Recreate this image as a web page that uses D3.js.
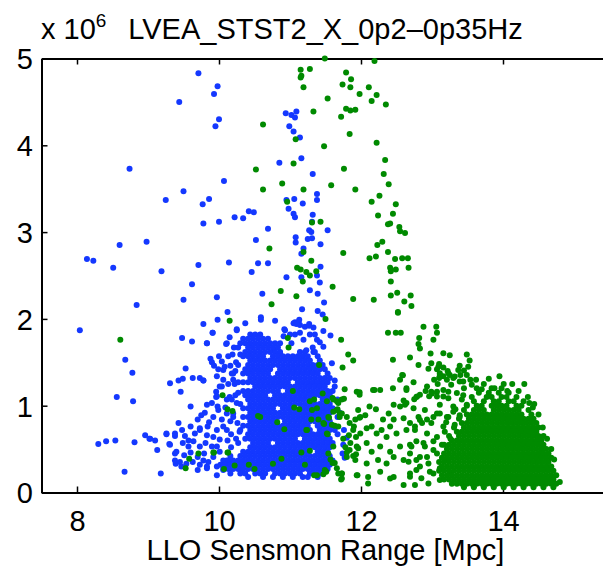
<!DOCTYPE html>
<html>
<head>
<meta charset="utf-8">
<script src="https://cdn.jsdelivr.net/npm/d3@7"></script>
<style>
  body { margin: 0; background: #fff; }
  text { font-family: "Liberation Sans", Arial, Helvetica, sans-serif; fill: #000; }
</style>
</head>
<body>
<svg id="chart" width="603" height="570"></svg>
<script>
// tick values (x in Mpc, y in units of 10^6)
var xTicks = [8, 10, 12, 14];
var yTicks = [0, 1, 2, 3, 4, 5];

// blue series, scattered points [range, value]
var blueSparse = [
 [9.71,4.83],[9.98,4.68],[9.93,4.59],[9.44,4.50],[10.00,4.30],[9.95,4.22],[8.74,3.73],[10.07,3.59],[9.50,3.47],[9.25,3.37],
 [9.86,3.38],[9.77,3.32],[10.22,3.17],[10.00,3.12],[9.78,3.10],[8.98,2.89],[8.60,2.85],[8.14,2.69],[8.23,2.67],[8.51,2.59],
 [9.19,2.55],[9.71,2.62],[10.14,2.65],[9.62,2.40],[8.84,2.16],[9.50,2.22],[9.97,2.25],[10.12,2.08],[8.04,1.87],[9.98,1.99],
 [9.78,1.94],[9.48,1.78],[9.62,1.74],[9.91,1.84],[10.15,1.79],[10.25,1.88],[9.83,1.72],[8.68,1.53],[8.78,1.38],[8.56,1.10],
 [8.79,1.05],[9.31,1.26],[9.43,1.29],[9.49,1.31],[9.63,1.32],[9.73,1.32],[9.78,1.29],[9.46,1.16],[9.53,1.43],[9.60,0.99],
 [9.88,1.54],[9.90,1.50],[9.93,1.46],[10.04,1.51],[10.06,1.41],[10.10,1.71],[10.19,1.59],[9.97,1.34],[10.01,1.22],[9.96,1.10],
 [9.83,1.01],[9.80,0.92],[9.75,0.89],[9.70,0.84],[8.96,0.66],[9.02,0.62],[9.10,0.60],[9.13,0.49],[8.30,0.56],[8.41,0.59],
 [8.54,0.60],[8.81,0.58],[8.67,0.24],[9.18,0.22],[9.26,0.67],[9.38,0.65],[9.30,0.56],[9.38,0.45],[9.39,0.33],
 [11.09,4.39],[10.94,4.37],[11.02,4.35],[11.07,4.32],[10.99,4.22],[11.05,4.16],[11.14,4.09],[11.16,3.85],[10.85,3.80],[11.32,3.67],
 [11.38,3.44],[11.38,3.37],[11.06,3.38],[11.18,3.33],[10.95,3.37],[10.98,3.27],[11.05,3.21],[11.07,3.17],[11.32,3.20],[11.31,3.12],
 [11.53,3.02],[11.27,3.02],[11.30,3.00],[11.08,2.94],[11.25,2.92],[11.31,2.93],[11.08,2.88],[11.19,2.81],[11.16,2.75],[11.43,2.86],
 [11.43,2.60],[11.38,2.50],[11.42,2.42],[10.95,2.48],[11.16,2.48],[11.28,2.33],[11.39,2.29],[11.48,2.19],[11.17,2.11],[11.39,2.09],
 [11.46,2.05],[11.07,1.96],[11.12,1.96],[11.27,1.94],[10.42,3.24],[10.49,3.23],[10.34,3.16],[10.69,3.04],[10.52,2.91],[10.55,2.64],
 [10.69,2.64],[10.46,2.54],[10.61,2.29],[10.59,2.02],[10.37,1.95],
 [11.57,1.81],[11.05,1.95],[11.14,1.93],[11.21,1.91],[11.33,1.90],[11.47,1.86],[10.93,1.87],[11.00,1.82],[11.28,1.82],[11.38,1.76],
 [10.77,1.64],[10.86,1.61],[10.92,1.88],[11.09,1.94],[11.13,1.99],[11.27,1.92],[11.35,1.82],[11.42,1.73],[11.47,1.68],[11.59,1.49],
 [11.63,1.29],[11.14,1.84],[11.19,1.76],[11.07,1.82],[11.02,1.72],[11.23,1.64],[11.33,1.62],[10.86,1.72],[10.91,1.80],[10.79,1.98],
 [10.59,1.99],[10.25,1.87],[10.11,1.72],[9.83,1.72],[9.91,1.84],[9.78,1.29],[9.99,1.42],[10.08,1.45],[9.96,1.16],[9.98,0.99],
 [9.84,0.76],[9.73,0.72],[9.92,0.64],[9.78,0.37],[9.83,0.30],[9.97,0.53],[10.11,0.72],[10.04,0.84],[10.15,1.10],[10.20,0.91],
 [10.06,1.30],[10.18,1.37],[10.13,1.57],[10.00,1.57],[10.21,1.67],
 [10.24,1.50],[10.22,1.25],[10.25,1.03],[10.26,0.80],[10.24,0.62],[10.17,0.52],[10.29,0.70],[10.16,0.82],[10.27,1.15],[10.23,1.40],
 [10.13,1.25],[10.17,0.67],[10.12,0.60],[10.30,1.59],[10.16,1.46],[10.09,0.98],
 [9.48,0.72],[9.52,0.65],[9.60,0.76],[9.66,0.68],[9.73,0.74],[9.83,0.66],[9.86,0.81],[9.97,0.72],[9.49,0.57],[9.57,0.53],
 [9.64,0.59],[9.73,0.53],[9.81,0.57],[9.90,0.53],[9.40,0.47],[9.51,0.43],[9.60,0.46],[9.70,0.41],[9.79,0.45],[9.92,0.41],
 [10.01,0.47],[9.45,0.35],[9.54,0.33],[9.63,0.35],[9.73,0.32],[9.85,0.35],[9.97,0.30],[9.70,0.26],[9.83,0.28],[9.97,0.20],
 [10.06,0.26],[9.31,0.55],[9.38,0.68],[9.43,0.80],[9.57,0.60],[9.92,0.87],[10.01,0.61],[10.06,0.76],[10.11,0.91],[10.18,1.07],
 [10.11,1.07],[9.97,1.11],[10.04,1.22],[10.20,1.30],[9.90,1.03],[9.99,0.95],[9.26,0.68],[9.03,0.62],[9.38,0.37],[9.47,0.30],
 [10.11,0.37],[10.18,0.28],[10.30,0.26],[11.76,0.72],[11.80,0.63],[11.75,0.55],[11.74,0.45],[11.77,0.40]
];

// blue dense cluster, one row per value: [value, range, range, ...]
var blueRows = [
 [1.82,10.44,10.51,10.58],
 [1.77,10.34,10.41,10.48,10.55,10.62,10.69],
 [1.72,10.30,10.37,10.44,10.51,10.58,10.65,10.72,10.79],
 [1.67,10.27,10.41,10.48,10.55,10.62,10.69,10.76,10.83,11.32],
 [1.62,10.37,10.44,10.51,10.58,10.65,10.72,10.79,10.86,11.14,11.21,11.35],
 [1.57,10.34,10.41,10.48,10.55,10.62,10.76,10.83,10.90,10.97,11.04,11.11,11.18,11.25,11.39],
 [1.52,10.44,10.51,10.58,10.65,10.72,10.79,10.86,10.93,11.00,11.07,11.14,11.21,11.28,11.42],
 [1.47,10.27,10.41,10.48,10.55,10.62,10.69,10.76,10.83,10.90,10.97,11.04,11.11,11.18,11.25,11.32,11.39,11.46],
 [1.42,10.37,10.44,10.51,10.58,10.65,10.72,10.86,10.93,11.00,11.07,11.14,11.21,11.28,11.35,11.42,11.49],
 [1.37,10.20,10.34,10.41,10.48,10.55,10.62,10.69,10.83,10.90,10.97,11.04,11.11,11.18,11.25,11.32,11.39,11.53],
 [1.32,10.44,10.51,10.58,10.65,10.72,10.79,10.86,10.93,11.00,11.07,11.14,11.21,11.28,11.35,11.42,11.49,11.56],
 [1.27,10.27,10.34,10.41,10.48,10.55,10.62,10.69,10.76,10.83,10.90,10.97,11.11,11.18,11.25,11.32,11.39,11.46,11.53],
 [1.22,10.51,10.58,10.65,10.72,10.79,10.86,10.93,11.00,11.07,11.14,11.21,11.28,11.35,11.42,11.49,11.63],
 [1.17,10.34,10.41,10.48,10.55,10.62,10.69,10.76,10.83,10.97,11.04,11.11,11.18,11.25,11.32,11.39,11.46,11.53,11.60],
 [1.12,10.23,10.37,10.44,10.51,10.58,10.65,10.79,10.86,10.93,11.00,11.07,11.14,11.21,11.28,11.35,11.42,11.49,11.56],
 [1.07,10.41,10.48,10.55,10.62,10.69,10.76,10.83,10.90,10.97,11.04,11.11,11.18,11.25,11.32,11.46,11.53,11.67],
 [1.02,10.30,10.44,10.51,10.58,10.65,10.72,10.79,10.86,10.93,11.00,11.07,11.14,11.21,11.28,11.35,11.42,11.49,11.56],
 [0.97,10.34,10.41,10.48,10.55,10.62,10.69,10.76,10.90,10.97,11.04,11.18,11.25,11.32,11.39,11.46,11.53,11.60],
 [0.92,10.44,10.51,10.58,10.65,10.72,10.79,10.86,10.93,11.00,11.07,11.14,11.21,11.28,11.35,11.42,11.49,11.56,11.70],
 [0.87,10.20,10.34,10.41,10.48,10.55,10.62,10.69,10.76,10.83,10.90,10.97,11.04,11.11,11.18,11.25,11.32,11.39,11.46,11.53,11.67],
 [0.82,10.44,10.51,10.58,10.65,10.72,10.79,10.93,11.00,11.07,11.14,11.21,11.28,11.35,11.42,11.49,11.56],
 [0.77,10.34,10.41,10.48,10.55,10.62,10.69,10.76,10.83,10.90,10.97,11.04,11.11,11.18,11.25,11.39,11.46,11.53,11.60],
 [0.72,10.30,10.44,10.51,10.58,10.65,10.72,10.79,10.86,10.93,11.00,11.07,11.14,11.21,11.28,11.42,11.49,11.56,11.63],
 [0.67,10.41,10.48,10.55,10.62,10.69,10.76,10.83,10.90,10.97,11.04,11.11,11.18,11.25,11.32,11.39,11.46,11.53,11.67],
 [0.62,10.37,10.44,10.51,10.58,10.65,10.72,10.79,10.86,10.93,11.00,11.07,11.21,11.28,11.35,11.42,11.49,11.56],
 [0.57,10.27,10.48,10.55,10.62,10.69,10.83,10.90,10.97,11.04,11.11,11.18,11.25,11.32,11.39,11.46,11.53,11.60],
 [0.52,10.44,10.51,10.58,10.65,10.72,10.79,10.86,10.93,11.00,11.07,11.14,11.21,11.28,11.35,11.42,11.49,11.56],
 [0.47,10.34,10.41,10.48,10.55,10.62,10.69,10.76,10.83,10.90,10.97,11.04,11.11,11.18,11.25,11.39,11.46,11.53],
 [0.42,10.16,10.30,10.37,10.44,10.51,10.58,10.65,10.72,10.79,10.86,10.93,11.00,11.07,11.14,11.21,11.28,11.35,11.42,11.49,11.56],
 [0.37,10.06,10.13,10.20,10.27,10.34,10.41,10.48,10.55,10.62,10.69,10.76,10.83,10.90,10.97,11.04,11.11,11.18,11.25,11.32,11.39,11.46,11.53,11.60],
 [0.32,10.02,10.09,10.16,10.23,10.30,10.37,10.44,10.51,10.58,10.65,10.72,10.79,10.86,10.93,11.00,11.07,11.14,11.21,11.28,11.35,11.42,11.49,11.56],
 [0.27,10.06,10.13,10.20,10.27,10.34,10.41,10.48,10.55,10.62,10.69,10.76,10.83,10.90,10.97,11.04,11.11,11.18,11.25,11.32,11.39,11.46,11.53],
 [0.22,10.16,10.30,10.37,10.51,10.58,10.65,10.79,10.86,10.93,11.00,11.07,11.14,11.28,11.35,11.42],
 [0.18,10.41,10.62,10.76,10.90,11.04,11.18,11.25,11.39]
];

// green series, scattered points [range, value]
var greenSparse = [
 [11.49,5.00],[12.19,4.97],[11.15,4.87],[11.28,4.88],[11.16,4.80],[11.15,4.78],[11.19,4.67],[11.79,4.84],[11.86,4.76],[11.74,4.70],
 [11.85,4.67],[12.11,4.67],[11.98,4.59],[12.22,4.58],[12.15,4.51],[12.35,4.47],[11.53,4.54],[11.33,4.39],[11.79,4.42],[11.85,4.40],
 [11.92,4.41],[11.72,4.33],[11.84,4.13],[12.22,4.03],[11.08,4.07],[11.48,3.99],[11.05,3.79],[12.34,3.83],[11.76,3.73],[10.89,3.56],
 [12.32,3.67],[11.58,3.54],[12.39,3.55],[11.19,3.49],[11.92,3.49],[12.26,3.42],[12.15,3.35],[12.49,3.32],[10.96,3.35],[12.45,3.21],
 [12.24,3.19],[12.41,3.10],[12.38,3.09],[12.54,3.06],[12.55,3.01],[12.62,2.99],[11.43,3.12],[11.31,3.11],[12.30,2.89],[12.23,2.85],
 [11.75,2.76],[12.38,2.77],[12.12,2.70],[12.21,2.72],[12.48,2.69],[12.58,2.70],[12.66,2.70],[12.41,2.59],[12.42,2.55],[12.49,2.57],
 [12.67,2.59],[11.19,2.77],[11.30,2.67],[11.10,2.59],[11.15,2.57],[11.23,2.54],[11.28,2.50],[11.37,2.55],[11.18,2.43],[12.42,2.43],
 [11.60,2.37],[10.87,2.32],[11.09,2.26],[11.89,2.23],[12.18,2.22],[12.42,2.27],[12.51,2.30],[12.61,2.20],[12.70,2.27],[12.71,2.15],
 [12.52,2.08],[11.50,2.00],
 [10.62,4.24],[10.52,3.72],[10.62,3.49],[10.71,2.81],[10.74,2.17],[8.61,1.76],[10.15,1.98],[10.05,1.12],[10.12,0.96],[10.19,0.94],
 [9.71,0.45],[9.93,0.46],[10.12,0.46],[9.58,0.39],[9.53,0.28],[10.07,0.27],[10.22,0.31],
 [10.97,1.78],[10.98,1.67],[11.72,1.76],[11.82,1.59],[11.89,1.52],[11.74,1.44],[11.41,1.47],[11.77,1.19],[11.46,1.14],[11.52,1.05],
 [11.60,1.09],[11.66,1.05],[11.73,1.07],[11.76,1.08],[11.04,1.17],[11.06,0.98],[11.13,0.96],[11.28,1.05],[11.34,1.07],[11.31,0.95],
 [11.38,0.97],[11.67,0.96],[11.70,0.91],[11.80,0.87],[11.94,1.16],[11.96,0.95],[11.92,0.84],[10.58,0.87],[10.55,0.88],[10.82,0.81],
 [10.92,0.73],[11.30,0.84],[11.40,0.84],[11.55,0.86],[11.63,0.77],[11.48,0.79],[11.53,0.67],[11.23,0.72],[11.16,0.46],[11.28,0.48],
 [11.60,0.34],[11.21,0.32],[10.88,0.39],[10.76,0.33],[10.42,0.32],[10.50,0.27],[11.66,0.28],[11.51,0.24],[11.47,0.21],[11.34,0.20],
 [11.38,0.20],[11.73,0.22],[11.72,0.15],[11.78,0.52],[11.80,0.46],[11.89,0.42],[9.92,0.46],[10.13,0.46],[11.95,0.20],[11.84,0.49],
 [11.93,0.44],[11.96,0.51],[11.98,0.86],[11.93,0.64],[11.83,0.66],[11.90,0.76],
 [11.61,1.07],[11.68,1.03],[11.70,0.87],[11.68,0.76],[11.54,0.87],[11.59,0.78],[11.52,0.68],[11.61,0.53],[11.54,0.45],[11.57,0.38],
 [11.63,0.34],[11.68,0.22],[11.47,0.80],[11.24,0.72],[11.49,0.26],
 [12.38,1.84],[12.49,1.84],[12.56,1.84],[12.52,2.07],[12.88,1.91],[13.06,1.91],[13.07,1.84],[12.82,1.78],[12.83,1.66],[12.81,1.71],
 [13.02,1.76],[12.45,1.53],[12.69,1.555],[12.98,1.60],[13.16,1.605],[13.25,1.58],[13.49,1.59],[13.53,1.52],[13.51,1.45],[13.45,1.405],
 [13.39,1.46],[12.81,1.47],[12.95,1.425],[12.99,1.49],[13.10,1.48],[13.16,1.44],[13.22,1.40],[13.25,1.355],[12.59,1.35],[12.74,1.27],
 [13.07,1.42],[13.11,1.375],[13.10,1.32],[13.08,1.25],[11.98,1.155],[11.98,1.125],[12.19,1.18],[12.27,1.18],[12.64,1.18],[12.78,1.10],
 [12.75,1.075],[12.91,1.17],[12.99,1.16],[12.96,1.11],[12.60,1.06],[12.62,1.01],[12.46,1.01],
 [13.09,1.45],[13.16,1.34],[13.23,1.375],[13.30,1.32],[13.37,1.41],[13.49,1.355],[13.40,1.355],[13.44,1.28],[13.54,1.30],[13.56,1.24],
 [12.58,1.355],[12.45,1.20],[12.55,1.30],[12.64,1.20],[12.17,1.18],[12.79,1.105],[12.83,1.125],[12.93,1.22],[13.00,1.14],[13.07,1.16],
 [13.16,1.105],[13.23,1.16],
 [12.12,0.99],[12.21,0.96],[12.39,0.91],[12.55,0.99],[12.64,1.03],[12.74,0.97],[12.81,0.87],[12.31,0.84],[12.46,0.84],[12.60,0.855],
 [12.69,0.80],[12.41,0.76],[12.29,0.72],[12.15,0.76],[12.06,0.89],[11.99,0.87],[11.73,0.91],[11.66,0.95],[11.61,0.93],
 [11.84,0.80],[11.89,0.72],[11.99,0.68],[12.08,0.74],[12.22,0.68],[12.36,0.64],[12.50,0.68],[12.64,0.72],[12.76,0.76],[12.86,0.80],
 [12.93,0.84],[13.02,0.87],[13.11,0.91],[13.21,0.87],[13.30,0.93],[13.39,0.87],
 [11.75,0.62],[11.85,0.57],[11.94,0.53],[12.08,0.57],[12.15,0.47],[12.27,0.53],[12.41,0.47],[12.55,0.53],[12.69,0.55],[12.78,0.59],
 [12.90,0.53],[13.02,0.59],[13.14,0.55],
 [11.80,0.41],[11.92,0.375],[12.08,0.335],[12.24,0.375],[12.36,0.335],[12.46,0.41],[12.60,0.375],[12.69,0.45],[12.78,0.375],[12.93,0.41],
 [13.07,0.45],[13.21,0.39],
 [11.73,0.22],[11.94,0.20],[12.10,0.18],[12.27,0.24],[12.46,0.18],[12.60,0.085],[12.69,0.22],[12.83,0.30],[12.97,0.24],[13.11,0.28],
 [13.25,0.22],[11.73,0.16],[12.10,0.105],[12.41,0.16],
 [13.11,1.355],[13.03,1.30],[13.21,1.30],[13.32,1.335],[13.39,1.28],[13.27,1.24],[13.45,1.20],[13.35,1.145],[13.16,1.18],[13.07,1.105],
 [13.23,1.085],[13.42,1.07],[13.11,1.01],[13.30,0.99],[13.49,1.01],[12.90,0.95],[13.07,0.91],[13.23,0.87],[13.39,0.89],[12.83,0.835],
 [12.99,0.80],[13.16,0.76],[13.32,0.78],[12.93,0.68],[12.76,0.72],[13.07,0.64],[12.88,0.57],[12.71,0.53],[13.02,0.49],[12.83,0.41],
 [12.67,0.355],[12.95,0.335],[12.78,0.26],[13.02,0.22],[12.85,0.163],[12.69,0.182],[12.95,0.105],[13.11,0.144],[12.76,0.085],
 [14.42,0.98],[14.50,0.90],[14.56,0.75],[14.62,0.62],[14.68,0.50],[14.72,0.38],[14.80,0.12],[14.30,1.25],[14.13,1.25],[13.95,1.34],
 [14.37,1.03],[14.44,1.02],[14.50,0.59],[14.54,0.49],[13.62,1.30],[13.80,1.31],[14.22,1.17],[14.35,1.10],
 [13.18,0.70],[13.26,0.62],[13.20,0.81],[13.33,0.96],[13.44,1.12],[13.88,1.20],[14.06,1.17],[13.70,1.19]
];

// green dense cluster, one row per value: [value, range, range, ...]
var greenRows = [
 [1.25,13.73,14.01],
 [1.20,13.63,13.84,13.98],
 [1.15,13.66,13.80,13.94,14.08],
 [1.10,13.56,13.77,13.84,13.98,14.05,14.19],
 [1.05,13.59,13.73,13.87,13.94,14.08,14.15,14.29],
 [1.00,13.49,13.63,13.70,13.84,13.91,13.98,14.05,14.19,14.26],
 [0.95,13.45,13.59,13.66,13.73,13.87,13.94,14.01,14.08,14.15,14.22,14.36],
 [0.90,13.49,13.56,13.63,13.70,13.77,13.84,13.91,13.98,14.05,14.12,14.19,14.26,14.40],
 [0.85,13.38,13.52,13.59,13.66,13.73,13.80,13.87,13.94,14.01,14.08,14.15,14.22,14.29,14.36,14.43],
 [0.80,13.42,13.49,13.56,13.63,13.70,13.77,13.84,13.91,13.98,14.05,14.12,14.19,14.26,14.33,14.40,14.47],
 [0.75,13.31,13.45,13.52,13.59,13.66,13.73,13.80,13.87,13.94,14.01,14.08,14.15,14.22,14.29,14.36,14.43,14.50],
 [0.70,13.35,13.42,13.49,13.56,13.63,13.70,13.77,13.84,13.91,13.98,14.05,14.12,14.19,14.26,14.33,14.40,14.47],
 [0.65,13.24,13.38,13.45,13.52,13.59,13.66,13.73,13.80,13.87,13.94,14.01,14.08,14.15,14.22,14.29,14.36,14.43,14.50,14.57],
 [0.60,13.28,13.35,13.42,13.49,13.56,13.63,13.70,13.77,13.84,13.91,13.98,14.05,14.12,14.19,14.26,14.33,14.40,14.47,14.54],
 [0.55,13.17,13.24,13.31,13.38,13.45,13.52,13.59,13.66,13.73,13.80,13.87,13.94,14.01,14.08,14.15,14.22,14.29,14.36,14.43,14.50,14.57],
 [0.50,13.21,13.28,13.35,13.42,13.49,13.56,13.63,13.70,13.77,13.84,13.91,13.98,14.05,14.12,14.19,14.26,14.33,14.40,14.47,14.54,14.61],
 [0.45,13.17,13.24,13.31,13.38,13.45,13.52,13.59,13.66,13.73,13.80,13.87,13.94,14.01,14.08,14.15,14.22,14.29,14.36,14.43,14.50,14.57,14.64],
 [0.40,13.14,13.21,13.28,13.35,13.42,13.49,13.56,13.63,13.70,13.77,13.84,13.91,13.98,14.05,14.12,14.19,14.26,14.33,14.40,14.47,14.54,14.61,14.68],
 [0.35,13.10,13.17,13.24,13.31,13.38,13.45,13.52,13.59,13.66,13.73,13.80,13.87,13.94,14.01,14.08,14.15,14.22,14.29,14.36,14.43,14.50,14.57,14.64],
 [0.30,13.14,13.21,13.28,13.35,13.42,13.49,13.56,13.63,13.70,13.77,13.84,13.91,13.98,14.05,14.12,14.19,14.26,14.33,14.40,14.47,14.54,14.61,14.68],
 [0.25,13.10,13.17,13.24,13.31,13.38,13.45,13.52,13.59,13.66,13.73,13.80,13.87,13.94,14.01,14.08,14.15,14.22,14.29,14.36,14.43,14.50,14.57,14.64,14.71],
 [0.20,13.14,13.21,13.28,13.35,13.42,13.49,13.56,13.63,13.70,13.77,13.84,13.91,13.98,14.05,14.12,14.19,14.26,14.33,14.40,14.47,14.54,14.61,14.68,14.75],
 [0.15,13.17,13.24,13.31,13.38,13.45,13.52,13.59,13.66,13.73,13.80,13.87,13.94,14.01,14.08,14.15,14.22,14.29,14.36,14.43,14.50,14.57,14.64,14.71],
 [0.10,13.28,13.35,13.42,13.49,13.56,13.63,13.70,13.77,13.84,13.91,13.98,14.05,14.12,14.19,14.26,14.33,14.40,14.47,14.54,14.61,14.68,14.75],
 [0.06,13.45,13.59,13.73,13.87,14.01,14.15,14.29,14.43,14.57,14.71]
];

// rows -> [range, value] pairs
function unrow(rows) {
    var out = [];
    rows.forEach(function(r) {
        for (var i = 1; i < r.length; i++) out.push([r[i], r[0]]);
    });
    return out;
}

var blueData = blueSparse.concat(unrow(blueRows));
var greenData = greenSparse.concat(unrow(greenRows));

var svg = d3.select("#chart");
var fontSize = 29;

var x = d3.scaleLinear().domain([7.5, 15.5]).range([41.5, 609.5]);
var y = d3.scaleLinear().domain([0, 5]).range([492.5, 58.5]);

// axes (box: left, bottom, top; ticks point inward)
var xAxis = d3.axisBottom(x).tickValues(xTicks).tickSize(-6).tickSizeOuter(0).tickPadding(18).tickFormat(d3.format("d"));
var xAxisTop = d3.axisTop(x).tickValues(xTicks).tickSize(-6).tickSizeOuter(0).tickFormat("");
var yAxis = d3.axisLeft(y).tickValues(yTicks).tickSize(-6).tickSizeOuter(0).tickPadding(8.5).tickFormat(d3.format("d"));

var gx = svg.append("g").attr("transform", "translate(0," + y(0) + ")").call(xAxis);
var gxt = svg.append("g").attr("transform", "translate(0," + y(5) + ")").call(xAxisTop);
var gy = svg.append("g").attr("transform", "translate(" + x(7.5) + ",0)").call(yAxis);

[gx, gxt, gy].forEach(function(g) {
    g.select(".domain").attr("stroke", "#000").attr("stroke-width", 2);
    g.selectAll(".tick line").attr("stroke", "#000").attr("stroke-width", 1.5);
    g.selectAll(".tick text")
        .style("font-family", "'Liberation Sans', Arial, Helvetica, sans-serif")
        .style("font-size", fontSize + "px")
        .attr("fill", "#000");
});
gy.selectAll(".tick text").attr("dy", "0.36em");

// points: blue first, green over it
svg.append("g").selectAll("circle.b")
    .data(blueData).enter().append("circle")
    .attr("class", "b")
    .attr("cx", function(d) { return x(d[0]); })
    .attr("cy", function(d) { return y(d[1]); })
    .attr("r", 3)
    .attr("fill", "#1438ff");

svg.append("g").selectAll("circle.g")
    .data(greenData).enter().append("circle")
    .attr("class", "g")
    .attr("cx", function(d) { return x(d[0]); })
    .attr("cy", function(d) { return y(d[1]); })
    .attr("r", 3)
    .attr("fill", "#008a00");

// exponent label
var ex = svg.append("text").attr("x", 41).attr("y", 39).style("font-size", fontSize + "px");
ex.append("tspan").text("x 10");
ex.append("tspan").attr("dy", -12).style("font-size", "19px").text("6");

// title
svg.append("text")
    .attr("x", (x.range()[0] + x.range()[1]) / 2)
    .attr("y", 39)
    .attr("text-anchor", "middle")
    .style("font-size", fontSize + "px")
    .text("LVEA_STST2_X_0p2\u20130p35Hz");

// x label
svg.append("text")
    .attr("x", (x.range()[0] + x.range()[1]) / 2)
    .attr("y", 560)
    .attr("text-anchor", "middle")
    .style("font-size", fontSize + "px")
    .text("LLO Sensmon Range [Mpc]");
</script>
</body>
</html>
